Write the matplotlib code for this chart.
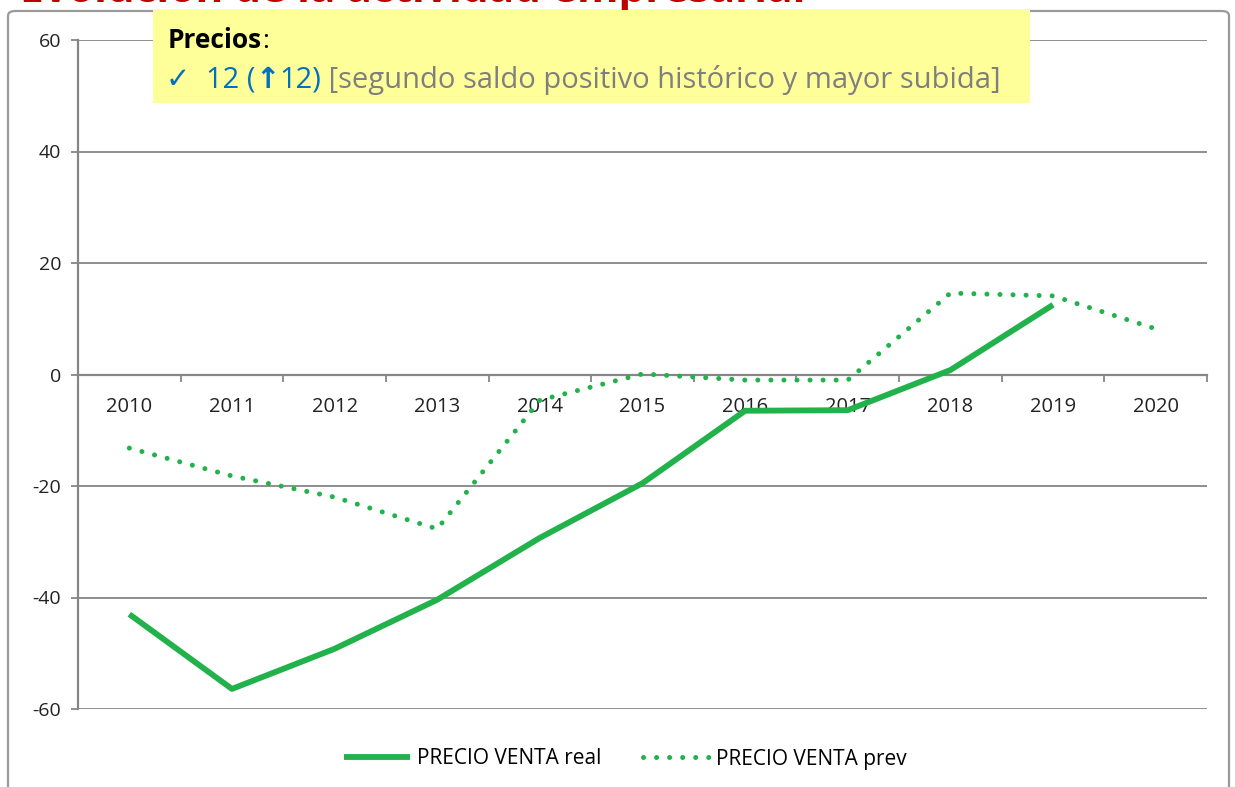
import numpy as np
import matplotlib
matplotlib.use("Agg")
import matplotlib.pyplot as plt
from matplotlib.patches import Rectangle, FancyBboxPatch

# data
years = ["2010", "2011", "2012", "2013", "2014", "2015", "2016", "2017", "2018", "2019", "2020"]
real = [-43.0, -56.4, -49.2, -40.4, -29.3, -19.5, -6.5, -6.4, 0.8, 12.5]
prev = [-13.2, -18.2, -22.0, -27.7, -4.6, 0.1, -1.0, -1.0, 14.6, 14.1, 8.2]
yticks = [-60, -40, -20, 0, 20, 40, 60]

title = "Evolución de la actividad empresarial"
box_head = "Precios"
box_line = ["\u2713  ", "12 (", "\u2191", "12)", " [segundo saldo positivo histórico y mayor subida]"]

W, H = 1235, 787
green = "#21B24B"
grey = "#868686"
fam = ["Open Sans", "DejaVu Sans"]

fig = plt.figure(figsize=(W / 100, H / 100), dpi=100)
rend = fig.canvas.get_renderer()

# outer chart border
fig.patches.append(FancyBboxPatch((8 / W, -0.05), 1221 / W, 1.05 - 11 / H,
                                  boxstyle="round,pad=0,rounding_size=0.006",
                                  transform=fig.transFigure, fc="white", ec="#9a9a9a", lw=1.6, zorder=-1))

ax = fig.add_axes([78 / W, 1 - 709 / H, (1207 - 78) / W, (709 - 40) / H])
ax.set_facecolor("none")
x = np.arange(len(years))
ax.plot(x[:len(real)], real, color=green, lw=4.2, solid_capstyle="butt", zorder=3,
        label="PRECIO VENTA real")
ax.plot(x, prev, color=green, lw=3.6, linestyle=(0, (0.01, 2.6)), dash_capstyle="round",
        zorder=3, label="PRECIO VENTA prev")

ax.set_xlim(-0.5, len(years) - 0.5)
ax.set_ylim(-60, 60)
ax.set_yticks(yticks)
ax.set_yticklabels([str(v) for v in yticks], fontsize=14, family=fam, color="#222222")
for v in yticks:
    if v != 0:
        ax.axhline(v, color=grey, lw=1.3, zorder=1)
ax.tick_params(axis="y", length=5, width=1.3, color=grey, pad=7)

ax.spines["top"].set_visible(False)
ax.spines["right"].set_visible(False)
ax.spines["left"].set_color(grey)
ax.spines["left"].set_linewidth(1.6)
ax.spines["bottom"].set_position(("data", 0))
ax.spines["bottom"].set_color(grey)
ax.spines["bottom"].set_linewidth(1.6)
ax.set_xticks(np.arange(-0.5, len(years), 1))
ax.set_xticklabels([])
ax.tick_params(axis="x", length=5, width=1.3, color=grey, direction="out")

for i, yr in enumerate(years):
    ax.annotate(yr, (i, 0), xytext=(0, -23.5), textcoords="offset points",
                ha="center", va="center", fontsize=14.5, family=fam, color="#222222", zorder=1.5)

ax.legend(loc="center", bbox_to_anchor=(0.506, 1 - 759 / H), bbox_transform=fig.transFigure,
          ncol=2, frameon=False, prop={"family": fam, "size": 15},
          handlelength=3.2, handletextpad=0.3, columnspacing=2.0)

# cropped red title (only its lower edge shows, as in the source)
fig.text(20 / W, 1 - 1.5 / H, title, color="#C00000", fontsize=30.5, fontweight="bold",
         family=fam, va="baseline", ha="left", zorder=1)

# yellow note box
fig.patches.append(Rectangle((153 / W, 1 - 103 / H), (1030 - 153) / W, 93 / H,
                             transform=fig.transFigure, fc="#FFFF99", ec="none", zorder=5))


def chain(parts, x0, y0, size):
    xp = x0
    for s, col, wt in parts:
        t = fig.text(xp / W, 1 - y0 / H, s, color=col, fontweight=wt, fontsize=size,
                     family=fam, va="baseline", ha="left", zorder=6)
        xp = t.get_window_extent(rend).x1
    return xp


chain([(box_head, "black", "bold"), (":", "black", "normal")], 168, 48, 19)
blue = "#0070C0"
chain([(box_line[0], blue, "normal"), (box_line[1], blue, "normal"), (box_line[2], blue, "bold"),
       (box_line[3], blue, "normal"), (box_line[4], "#7F7F7F", "normal")], 166, 88, 21)

fig.savefig("out.png", dpi=100)
